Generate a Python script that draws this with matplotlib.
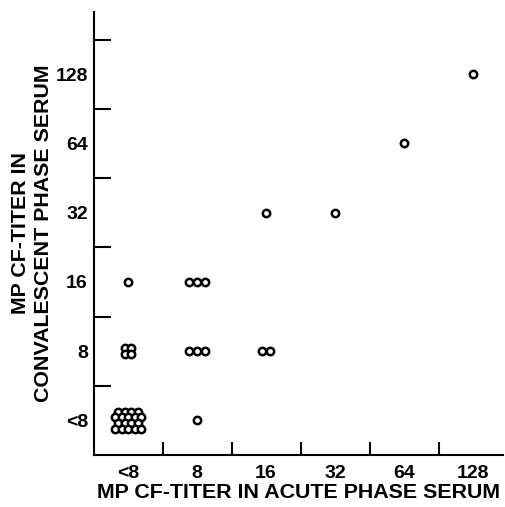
import numpy as np
import matplotlib
matplotlib.use('Agg')
import matplotlib.pyplot as plt

# titer categories (same scale on both axes)
titers = ['<8', '8', '16', '32', '64', '128']

# one entry per cell: acute titer, convalescent titer, number of patients
acute = ['<8', '<8', '<8', '8', '8', '8', '16', '16', '32', '64', '128']
conval = ['<8', '8', '16', '<8', '8', '16', '8', '32', '32', '64', '128']
counts = [18, 4, 1, 1, 3, 3, 2, 1, 1, 1, 1]


def cluster(n):
    # little arrangement of circles inside one cell (data units)
    if n == 1:
        return [(0.0, 0.0)]
    if n in (2, 3):
        d = 0.115
        return [((i - (n - 1) / 2) * d, 0.0) for i in range(n)]
    if n == 4:
        d = 0.095
        return [(-d / 2, d / 2), (d / 2, d / 2), (-d / 2, -d / 2), (d / 2, -d / 2)]
    # big staggered block
    dx, dy = 0.094, 0.083
    rows = [4, 5, 4, 5]
    pts = []
    for r, m in enumerate(rows):
        yy = (1.5 - r) * dy
        for i in range(m):
            pts.append(((i - (m - 1) / 2) * dx, yy))
    return pts


plt.rcParams['font.family'] = ['Liberation Sans', 'DejaVu Sans']
plt.rcParams['font.weight'] = 'bold'

fig = plt.figure(figsize=(5.06, 5.07), dpi=100)
ax = fig.add_axes([0.1848, 0.1026, 0.809, 0.8738])

xs, ys = [], []
for a, c, n in zip(acute, conval, counts):
    x0 = titers.index(a)
    y0 = titers.index(c)
    for dx, dy in cluster(n):
        xs.append(x0 + dx)
        ys.append(y0 + dy)

ax.plot(xs, ys, 'o', ms=5.3, mfc='white', mec='black', mew=1.8, ls='none')

ax.set_xlim(-0.5, 5.43)
ax.set_ylim(-0.5, 5.9)

ax.spines['top'].set_visible(False)
ax.spines['right'].set_visible(False)
ax.spines['left'].set_linewidth(1.5)
ax.spines['bottom'].set_linewidth(1.5)

# boundary ticks (no labels), labels at the category centres
ax.set_xticks(np.arange(0.5, 5, 1))
ax.set_yticks(np.arange(0.5, 6, 1))
ax.set_xticklabels([])
ax.set_yticklabels([])
ax.set_xticks(range(len(titers)), minor=True)
ax.set_yticks(range(len(titers)), minor=True)
ax.set_xticklabels(titers, minor=True, fontsize=14, fontweight='bold')
ax.set_yticklabels(titers, minor=True, fontsize=14, fontweight='bold')

ax.tick_params(which='major', direction='in', width=1.5, color='black')
ax.tick_params(axis='x', which='major', length=9.5)
ax.tick_params(axis='y', which='major', length=12)
ax.tick_params(which='minor', length=0)
ax.tick_params(axis='x', which='minor', pad=7)
ax.tick_params(axis='y', which='minor', pad=4)

ax.set_xlabel('MP CF-TITER IN ACUTE PHASE SERUM', fontsize=15.4, fontweight='bold', labelpad=1)
ax.set_ylabel('MP CF-TITER IN\nCONVALESCENT PHASE SERUM', fontsize=15.4, fontweight='bold',
              labelpad=2, linespacing=1.25)

fig.savefig('out.png', dpi=100, facecolor='white')
